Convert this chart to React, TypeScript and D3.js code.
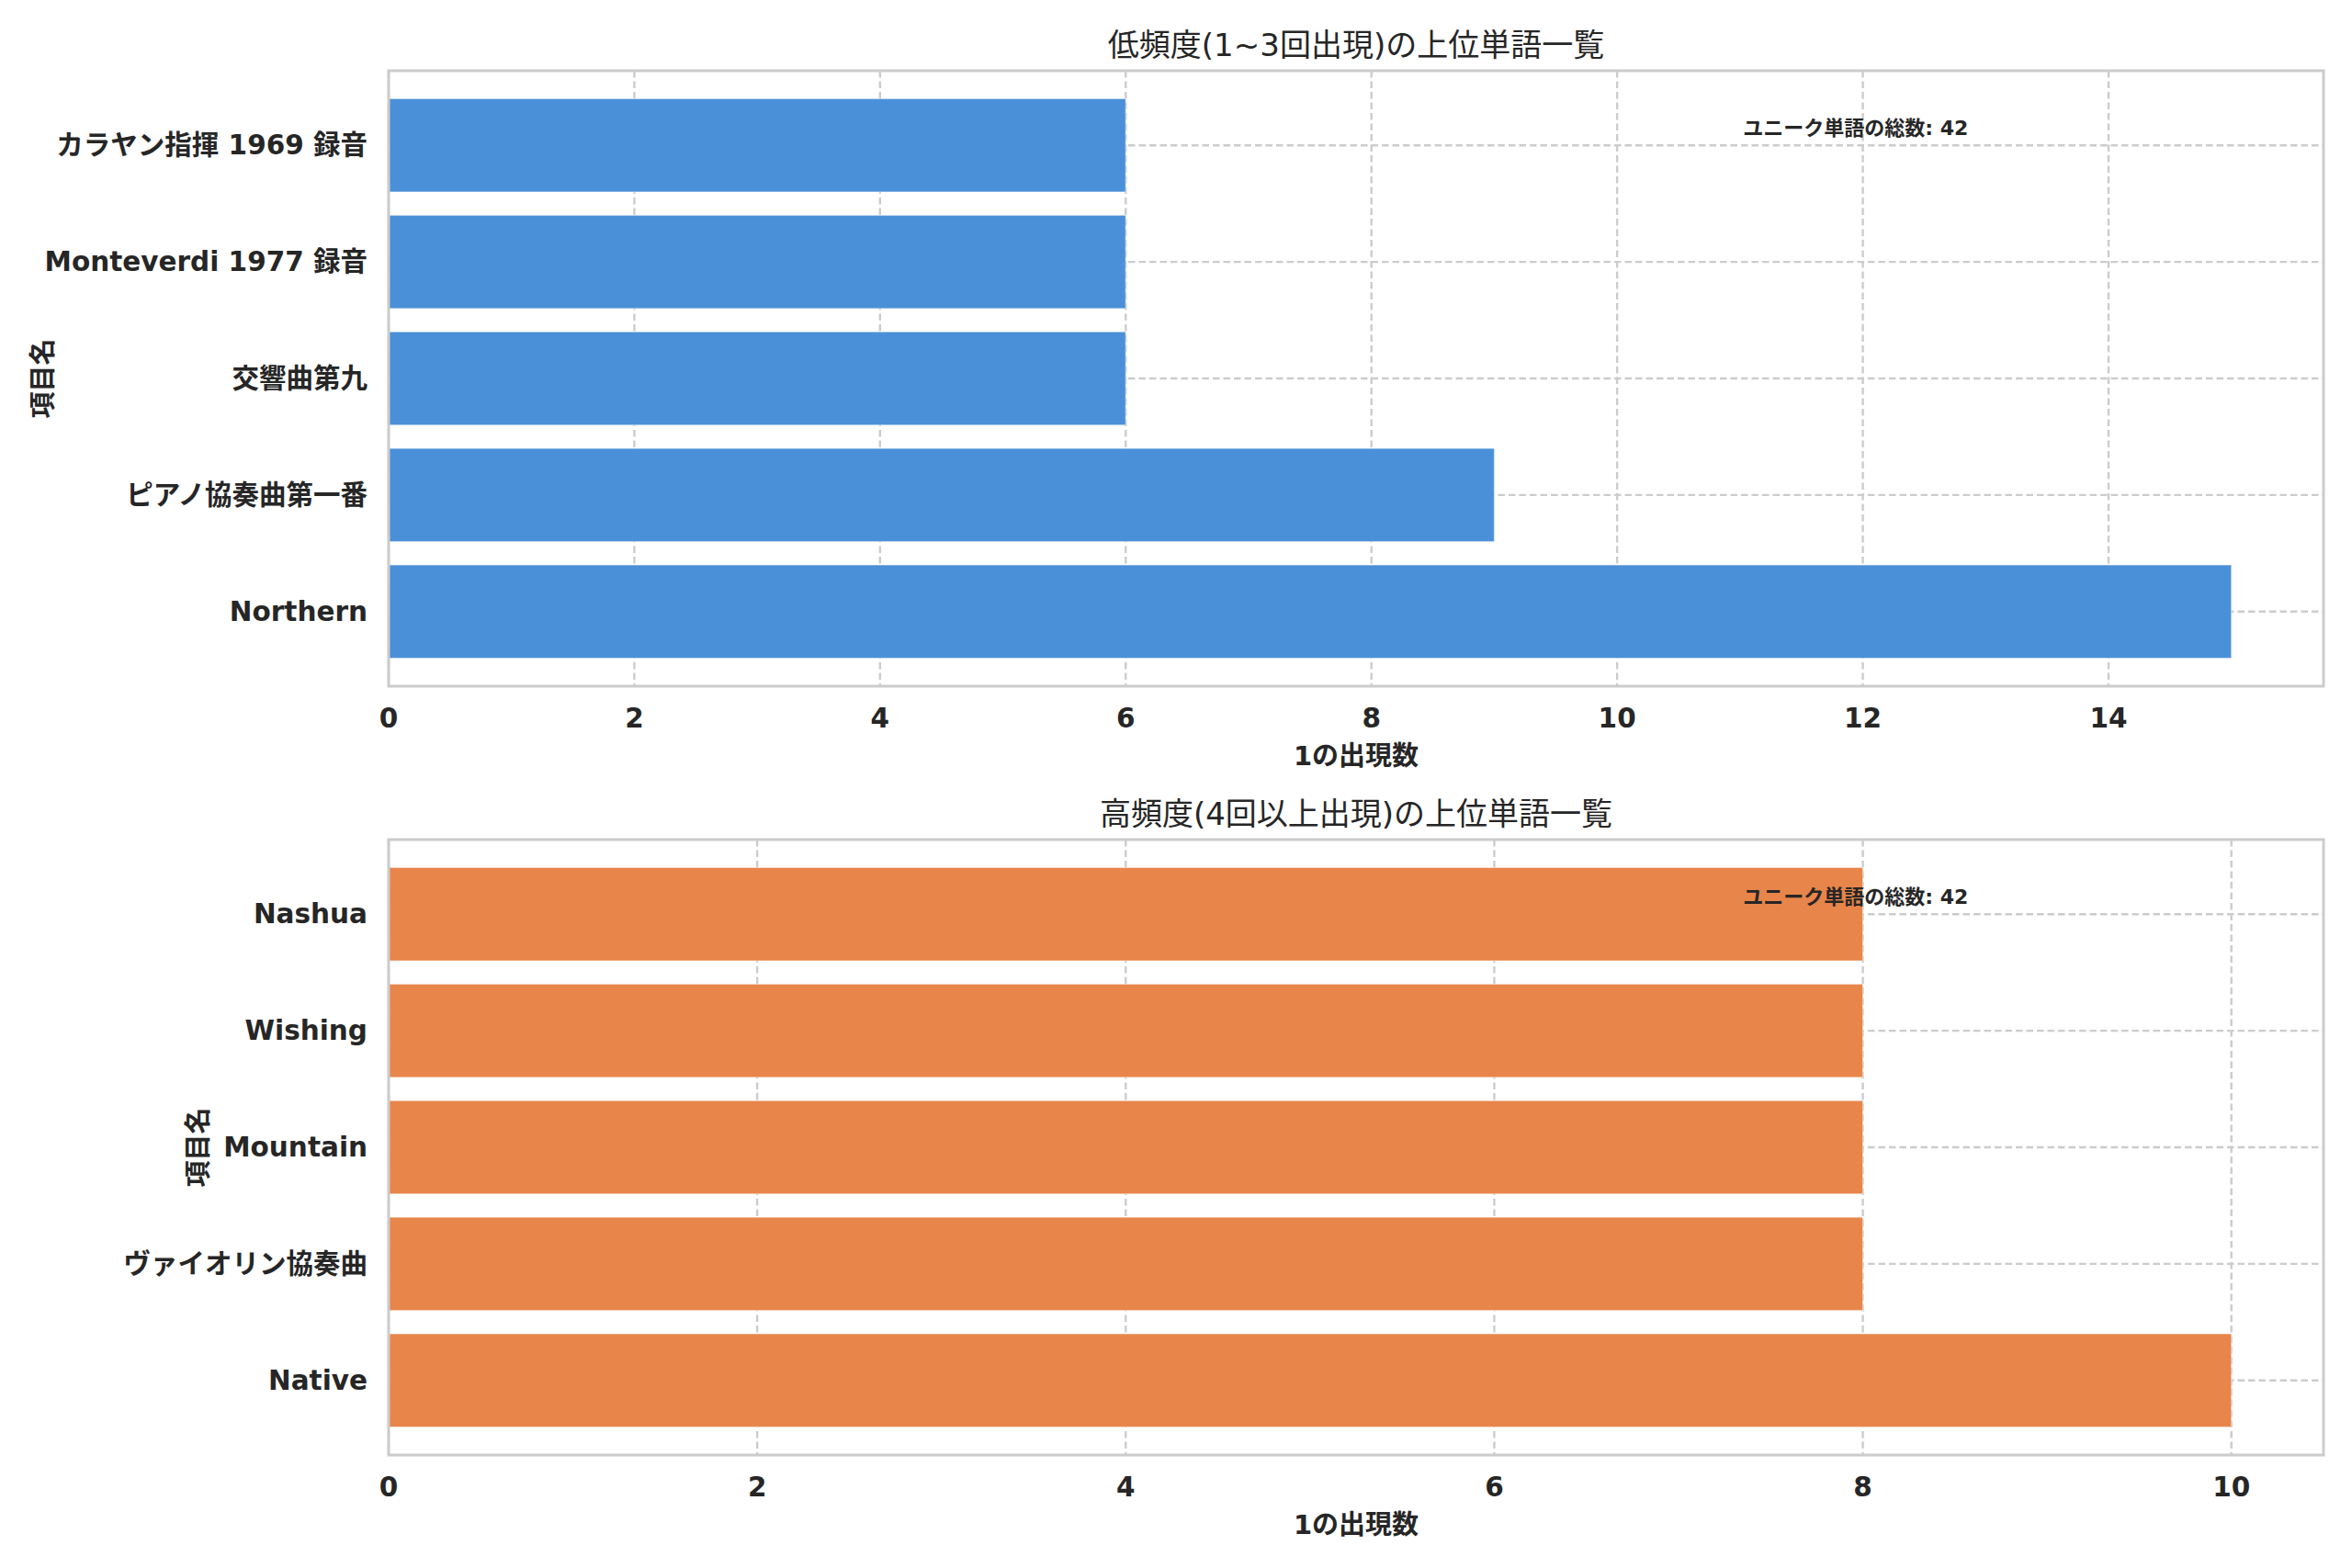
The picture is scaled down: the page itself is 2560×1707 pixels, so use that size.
import * as d3 from "d3";

// bottom-to-top order, as plotted
const lowCategories = ["Northern", "ピアノ協奏曲第一番", "交響曲第九", "Monteverdi 1977 録音", "カラヤン指揮 1969 録音"];
const lowValues = [15, 9, 6, 6, 6];
const lowTicks = [0, 2, 4, 6, 8, 10, 12, 14];

const highCategories = ["Native", "ヴァイオリン協奏曲", "Mountain", "Wishing", "Nashua"];
const highValues = [10, 8, 8, 8, 8];
const highTicks = [0, 2, 4, 6, 8, 10];

const TITLES = ["低頻度(1~3回出現)の上位単語一覧", "高頻度(4回以上出現)の上位単語一覧"];
const X_LABEL = "1の出現数";
const Y_LABEL = "項目名";
const NOTE = "ユニーク単語の総数: 42";

const W = 2560;
const H = 1707;
const LEFT = 423;
const RIGHT = 2529;
const PANEL_H = 670;
const TOPS = [77, 914];
const YLABEL_X = [47, 216];
const FONT = "'DejaVu Sans', 'Noto Sans CJK JP', sans-serif";
const TEXT = "#262626";
const GRID = "#cccccc";

interface PanelProps {
  top: number;
  title: string;
  categories: string[];
  values: number[];
  ticks: number[];
  color: string;
  ylabelX: number;
}

function Panel({ top, title, categories, values, ticks, color, ylabelX }: PanelProps) {
  const bottom = top + PANEL_H;
  const x = d3
    .scaleLinear()
    .domain([0, (d3.max(values) ?? 1) * 1.05])
    .range([LEFT, RIGHT]);
  const y = d3
    .scaleBand<string>()
    .domain([...categories].reverse())
    .range([top, bottom])
    .paddingInner(0.2)
    .paddingOuter(0.24);
  const half = y.bandwidth() / 2;

  return (
    <g>
      {/* grid */}
      {ticks.map((t) => (
        <line key={"gx" + t} x1={x(t)} x2={x(t)} y1={top} y2={bottom}
          stroke={GRID} strokeWidth={2.4} strokeDasharray="7.5,4" />
      ))}
      {categories.map((c) => (
        <line key={"gy" + c} x1={LEFT} x2={RIGHT} y1={y(c)! + half} y2={y(c)! + half}
          stroke={GRID} strokeWidth={2.4} strokeDasharray="7.5,4" />
      ))}

      {/* bars */}
      {categories.map((c, i) => (
        <rect key={"b" + c} x={x(0)} y={y(c)} width={x(values[i]) - x(0)} height={y.bandwidth()}
          fill={color} stroke="#ffffff" strokeOpacity={0.45} strokeWidth={1.2} />
      ))}

      {/* spines */}
      <rect x={LEFT} y={top} width={RIGHT - LEFT} height={PANEL_H}
        fill="none" stroke={GRID} strokeWidth={3} />

      {/* x ticks */}
      {ticks.map((t) => (
        <text key={"tx" + t} x={x(t)} y={bottom + 45} textAnchor="middle"
          fontSize={29.5} fontWeight="bold" fill={TEXT}>{t}</text>
      ))}
      <text x={(LEFT + RIGHT) / 2} y={bottom + 86} textAnchor="middle"
        fontSize={29} fontWeight="bold" fill={TEXT}>{X_LABEL}</text>

      {/* y ticks */}
      {categories.map((c) => (
        <text key={"ty" + c} x={LEFT - 23} y={y(c)! + half} textAnchor="end"
          dominantBaseline="central" fontSize={29.5} fontWeight="bold" fill={TEXT}>{c}</text>
      ))}
      <text transform={`translate(${ylabelX},${(top + bottom) / 2}) rotate(-90)`}
        textAnchor="middle" dominantBaseline="central"
        fontSize={29} fontWeight="bold" fill={TEXT}>{Y_LABEL}</text>

      {/* title */}
      <text x={(LEFT + RIGHT) / 2} y={top - 16} textAnchor="middle"
        fontSize={34} fill={TEXT}>{title}</text>

      {/* note */}
      <text x={LEFT + 0.7 * (RIGHT - LEFT)} y={top + 70}
        fontSize={22} fontWeight="bold" fill={TEXT}>{NOTE}</text>
    </g>
  );
}

export default function App() {
  return (
    <svg width={W} height={H} fontFamily={FONT}
      style={{ position: "absolute", left: 0, top: 0, background: "#ffffff" }}>
      <rect width={W} height={H} fill="#ffffff" />
      <Panel top={TOPS[0]} title={TITLES[0]} categories={lowCategories} values={lowValues}
        ticks={lowTicks} color="#4a90d9" ylabelX={YLABEL_X[0]} />
      <Panel top={TOPS[1]} title={TITLES[1]} categories={highCategories} values={highValues}
        ticks={highTicks} color="#e8854a" ylabelX={YLABEL_X[1]} />
    </svg>
  );
}
